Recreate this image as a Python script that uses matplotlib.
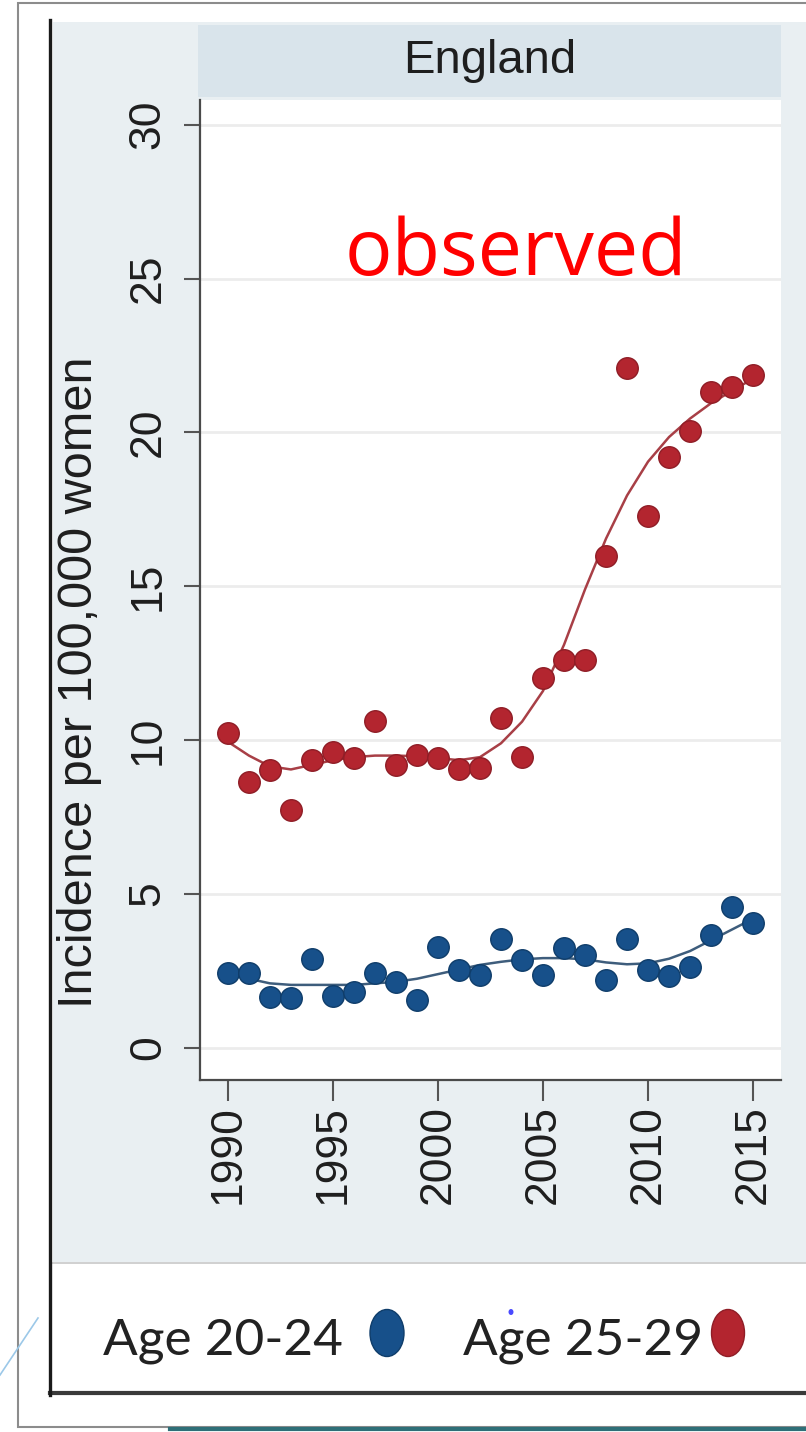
import matplotlib
matplotlib.use("Agg")
import matplotlib.pyplot as plt
from matplotlib.patches import Rectangle, Ellipse
from matplotlib.lines import Line2D

# ---------------- data ----------------
years = list(range(1990, 2016))
age_20_24 = [2.43, 2.43, 1.66, 1.62, 2.89, 1.69, 1.82, 2.43, 2.14, 1.56,
             3.28, 2.53, 2.37, 3.54, 2.86, 2.37, 3.25, 3.02, 2.21, 3.54,
             2.53, 2.34, 2.63, 3.67, 4.58, 4.06]
age_25_29 = [10.23, 8.64, 9.03, 7.73, 9.35, 9.61, 9.42, 10.62, 9.19, 9.51,
             9.42, 9.06, 9.09, 10.71, 9.45, 12.01, 12.6, 12.6, 15.97, 22.08,
             17.27, 19.19, 20.06, 21.3, 21.46, 21.88]
fit_20_24 = [2.4, 2.25, 2.1, 2.05, 2.05, 2.05, 2.05, 2.1, 2.15, 2.25,
             2.4, 2.55, 2.7, 2.8, 2.88, 2.92, 2.92, 2.88, 2.78, 2.72,
             2.75, 2.9, 3.15, 3.5, 3.85, 4.2]
fit_25_29 = [9.95, 9.5, 9.15, 9.05, 9.2, 9.35, 9.45, 9.5, 9.5, 9.48,
             9.42, 9.35, 9.45, 9.9, 10.6, 11.6, 13.1, 14.9, 16.55, 17.95,
             19.05, 19.85, 20.45, 20.95, 21.35, 21.75]
x_ticks = [1990, 1995, 2000, 2005, 2010, 2015]
y_ticks = [0, 5, 10, 15, 20, 25, 30]
panel_title = "England"
y_label = "Incidence per 100,000 women"
annotation = "observed"
legend_labels = ["Age 20-24", "Age 25-29"]

W, H = 806, 1432
fig = plt.figure(figsize=(W / 100, H / 100), dpi=100)
fig.patch.set_facecolor("white")


def fx(px):
    return px / W


def fy(py):
    return 1 - py / H


def rect(x0, y0, x1, y1, **kw):
    r = Rectangle((fx(x0), fy(y1)), fx(x1) - fx(x0), fy(y0) - fy(y1),
                  transform=fig.transFigure, **kw)
    fig.add_artist(r)
    return r


def line(xs, ys, **kw):
    l = Line2D([fx(v) for v in xs], [fy(v) for v in ys],
               transform=fig.transFigure, **kw)
    fig.add_artist(l)
    return l


# outer slide frame
rect(18, 3, 830, 1427, facecolor="white", edgecolor="#8c8c8c", lw=1.5, zorder=-5)
# graph background
rect(53, 22, 830, 1262, facecolor="#e9eff2", edgecolor="none", zorder=-4)
# legend box
rect(50, 1263, 830, 1393, facecolor="white", edgecolor="none", zorder=-4)
line([50, 830], [1263, 1263], color="#c8c8c8", lw=1.2, zorder=-3)
line([50, 830], [1393, 1393], color="#3a3a3a", lw=3.0, zorder=-3)
# thick left frame line
line([50, 50], [20, 1395], color="#1a1a1a", lw=2.4, zorder=-3)
# header strip
rect(198, 25, 781, 97, facecolor="#d9e4eb", edgecolor="none", zorder=-3)
fig.text(fx(489.5), fy(61), panel_title, ha="center", va="center",
         fontsize=34, family="Liberation Sans", color="#1e1e1e")
# slide artifacts
line([0, 38], [1375, 1318], color="#9cc8e8", lw=1.2, zorder=-3)
line([170, 830], [1429, 1429], color="#2e6f78", lw=3, zorder=-3)

# ---------------- axes ----------------
ax = fig.add_axes([fx(200), fy(1080), fx(781) - fx(200), fy(100) - fy(1080)])
ax.set_zorder(1)
ax.set_facecolor("white")
ax.set_xlim(1988.67, 2016.33)
ax.set_ylim(-1.04, 30.8)

for s in ["top", "right"]:
    ax.spines[s].set_visible(False)
for s in ["left", "bottom"]:
    ax.spines[s].set_color("#4a4a4a")
    ax.spines[s].set_linewidth(1.6)

ax.set_yticks(y_ticks)
ax.set_xticks(x_ticks)
ax.yaxis.grid(True, color="#ececec", lw=2.0)
ax.set_axisbelow(True)
ax.tick_params(axis="y", length=11.5, width=1.5, color="#555555", pad=11,
               labelsize=32, labelcolor="#1e1e1e")
ax.tick_params(axis="x", length=15, width=1.5, color="#555555", pad=3,
               labelsize=32, labelcolor="#1e1e1e")
for t in ax.get_yticklabels():
    t.set_rotation(90)
    t.set_va("center")
    t.set_ha("right")
    t.set_family("Liberation Sans")
for t in ax.get_xticklabels():
    t.set_rotation(90)
    t.set_ha("center")
    t.set_va("top")
    t.set_family("Liberation Sans")

blue_fill, blue_edge = "#17508a", "#0f3d6a"
red_fill, red_edge = "#b3252f", "#8f1d26"

ax.plot(years, fit_20_24, color="#3e5d7c", lw=1.8, zorder=2)
ax.plot(years, fit_25_29, color="#a83f46", lw=1.8, zorder=2)
ax.plot(years, age_20_24, "o", ms=15.5, mfc=blue_fill, mec=blue_edge,
        mew=1.0, zorder=3, clip_on=False)
ax.plot(years, age_25_29, "o", ms=15.5, mfc=red_fill, mec=red_edge,
        mew=1.0, zorder=3, clip_on=False)

fig.text(fx(80), fy(682), y_label, rotation=90, ha="center", va="center",
         fontsize=35, family="Liberation Sans", color="#1e1e1e")

fig.text(fx(345), fy(275), annotation, ha="left", va="baseline",
         fontsize=57, family="Open Sans", color="#ff0000", zorder=5)

# ---------------- legend ----------------
fig.text(fx(103), fy(1355), legend_labels[0], ha="left", va="baseline",
         fontsize=37, family="Lato", color="#222222", zorder=5)
fig.text(fx(463), fy(1355), legend_labels[1], ha="left", va="baseline",
         fontsize=37, family="Lato", color="#222222", zorder=5)
fig.add_artist(Ellipse((fx(387), fy(1333)), fx(34), 47 / H,
                       transform=fig.transFigure, facecolor=blue_fill,
                       edgecolor=blue_edge, lw=1, zorder=5))
fig.add_artist(Ellipse((fx(728), fy(1333)), fx(33), 47 / H,
                       transform=fig.transFigure, facecolor=red_fill,
                       edgecolor=red_edge, lw=1, zorder=5))
fig.add_artist(Ellipse((fx(511), fy(1312)), fx(5), 6 / H,
                       transform=fig.transFigure, facecolor="#4a4aff",
                       edgecolor="none", zorder=6))

fig.savefig("out.png", dpi=100)
